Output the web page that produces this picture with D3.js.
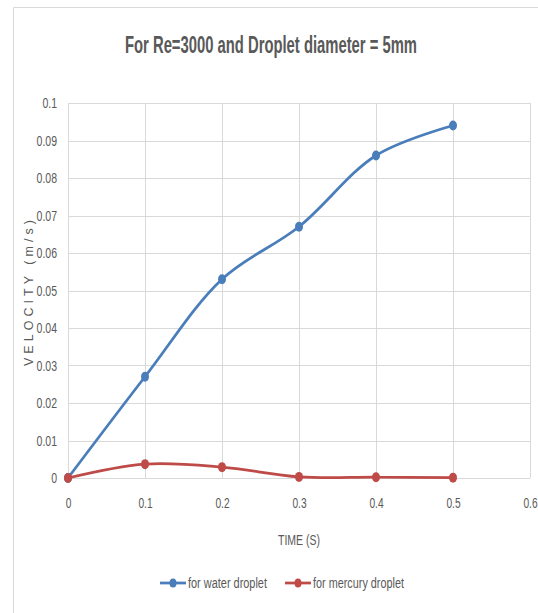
<!DOCTYPE html>
<html><head><meta charset="utf-8">
<script src="https://cdn.jsdelivr.net/npm/d3@7"></script>
<style>
body{margin:0;background:#fff;}
text{font-family:"Liberation Sans",Arial,sans-serif;fill:#595959;}
</style></head><body>
<svg id="c" width="538" height="613"></svg>
<script>
const times = [0, 0.1, 0.2, 0.3, 0.4, 0.5];
const waterVelocity = [0, 0.027, 0.053, 0.067, 0.086, 0.094];
const mercuryVelocity = [0, 0.0037, 0.0029, 0.0003, 0.0002, 0.0001];
const xTicks = [0, 0.1, 0.2, 0.3, 0.4, 0.5, 0.6];
const yTicks = [0, 0.01, 0.02, 0.03, 0.04, 0.05, 0.06, 0.07, 0.08, 0.09, 0.1];
const seriesNames = ["for water droplet", "for mercury droplet"];
const colors = ["#4a7ebb", "#be4b48"];

function condense(sel, f){
  sel.each(function(){
    const w = this.getComputedTextLength();
    d3.select(this).attr("textLength", w*f).attr("lengthAdjust","spacingAndGlyphs");
  });
}

const svg = d3.select("#c");
// chart frame
svg.append("line").attr("x1",13.5).attr("x2",538).attr("y1",7.5).attr("y2",7.5).attr("stroke","#d9d9d9");
svg.append("line").attr("x1",13.5).attr("x2",13.5).attr("y1",7.5).attr("y2",613).attr("stroke","#d9d9d9");

const L=68, R=530, T=103, B=478;
const x = d3.scaleLinear().domain([0,0.6]).range([L,R]);
const y = d3.scaleLinear().domain([0,0.1]).range([B,T]);

// gridlines
svg.append("g").selectAll("line").data(yTicks).join("line")
  .attr("x1",L).attr("x2",R).attr("y1",d=>Math.round(y(d))+0.5).attr("y2",d=>Math.round(y(d))+0.5)
  .attr("stroke","#d9d9d9").attr("stroke-width",1);
svg.append("g").selectAll("line").data(xTicks).join("line")
  .attr("y1",T).attr("y2",B).attr("x1",d=>Math.round(x(d))+0.5).attr("x2",d=>Math.round(x(d))+0.5)
  .attr("stroke","#d9d9d9").attr("stroke-width",1);

// axes labels
const xAxis = d3.axisBottom(x).tickValues(xTicks).tickSize(0).tickPadding(19).tickFormat(d=>d3.format("~g")(d));
const gx = svg.append("g").attr("transform",`translate(0,${B})`).call(xAxis);
gx.select(".domain").remove();
gx.selectAll("text").attr("font-size",15).style("fill","#595959").attr("font-family",null).call(condense,0.68);
const yAxis = d3.axisLeft(y).tickValues(yTicks).tickSize(0).tickPadding(11).tickFormat(d=>d3.format("~g")(d));
const gy = svg.append("g").attr("transform",`translate(${L},0)`).call(yAxis);
gy.select(".domain").remove();
gy.selectAll("text").attr("font-size",15).style("fill","#595959").attr("font-family",null).call(condense,0.7);

// lines
const line = d3.line().x(d=>x(d[0])).y(d=>y(d[1])).curve(d3.curveCatmullRom.alpha(0.5));
const series = [waterVelocity, mercuryVelocity];
series.forEach((vals,i)=>{
  const pts = times.map((t,j)=>[t, vals[j]]);
  svg.append("path").datum(pts).attr("d",line).attr("fill","none")
    .attr("stroke",colors[i]).attr("stroke-width",2.75).attr("stroke-linejoin","round");
  svg.append("g").selectAll("ellipse").data(pts).join("ellipse")
    .attr("cx",d=>x(d[0])).attr("cy",d=>y(d[1])).attr("rx",4).attr("ry",5)
    .attr("fill",colors[i]);
});

// title
svg.append("text").attr("x",271).attr("y",53).attr("text-anchor","middle")
  .attr("font-size",23).attr("font-weight","bold").style("fill","#595959")
  .attr("textLength",292).attr("lengthAdjust","spacingAndGlyphs")
  .text("For Re=3000 and Droplet diameter = 5mm");

// axis titles
svg.append("text").attr("x",299).attr("y",545).attr("text-anchor","middle")
  .attr("font-size",15).attr("textLength",42).attr("lengthAdjust","spacingAndGlyphs").text("TIME (S)");
svg.append("text").attr("transform","translate(33,293) rotate(-90)").attr("text-anchor","middle")
  .attr("font-size",12.5).attr("textLength",146).attr("lengthAdjust","spacing")
  .text("VELOCITY (m/s)");

// legend
const legX = [160, 285];
const legW = [79, 91];
seriesNames.forEach((n,i)=>{
  const g = svg.append("g").attr("transform",`translate(${legX[i]},583)`);
  g.append("line").attr("x1",0).attr("x2",26).attr("stroke",colors[i]).attr("stroke-width",2.75);
  g.append("ellipse").attr("cx",13).attr("rx",3.5).attr("ry",4.5).attr("fill",colors[i]);
  g.append("text").attr("x",28).attr("y",5).attr("font-size",14)
    .attr("textLength",legW[i]).attr("lengthAdjust","spacingAndGlyphs").text(n);
});
</script>
</body></html>
